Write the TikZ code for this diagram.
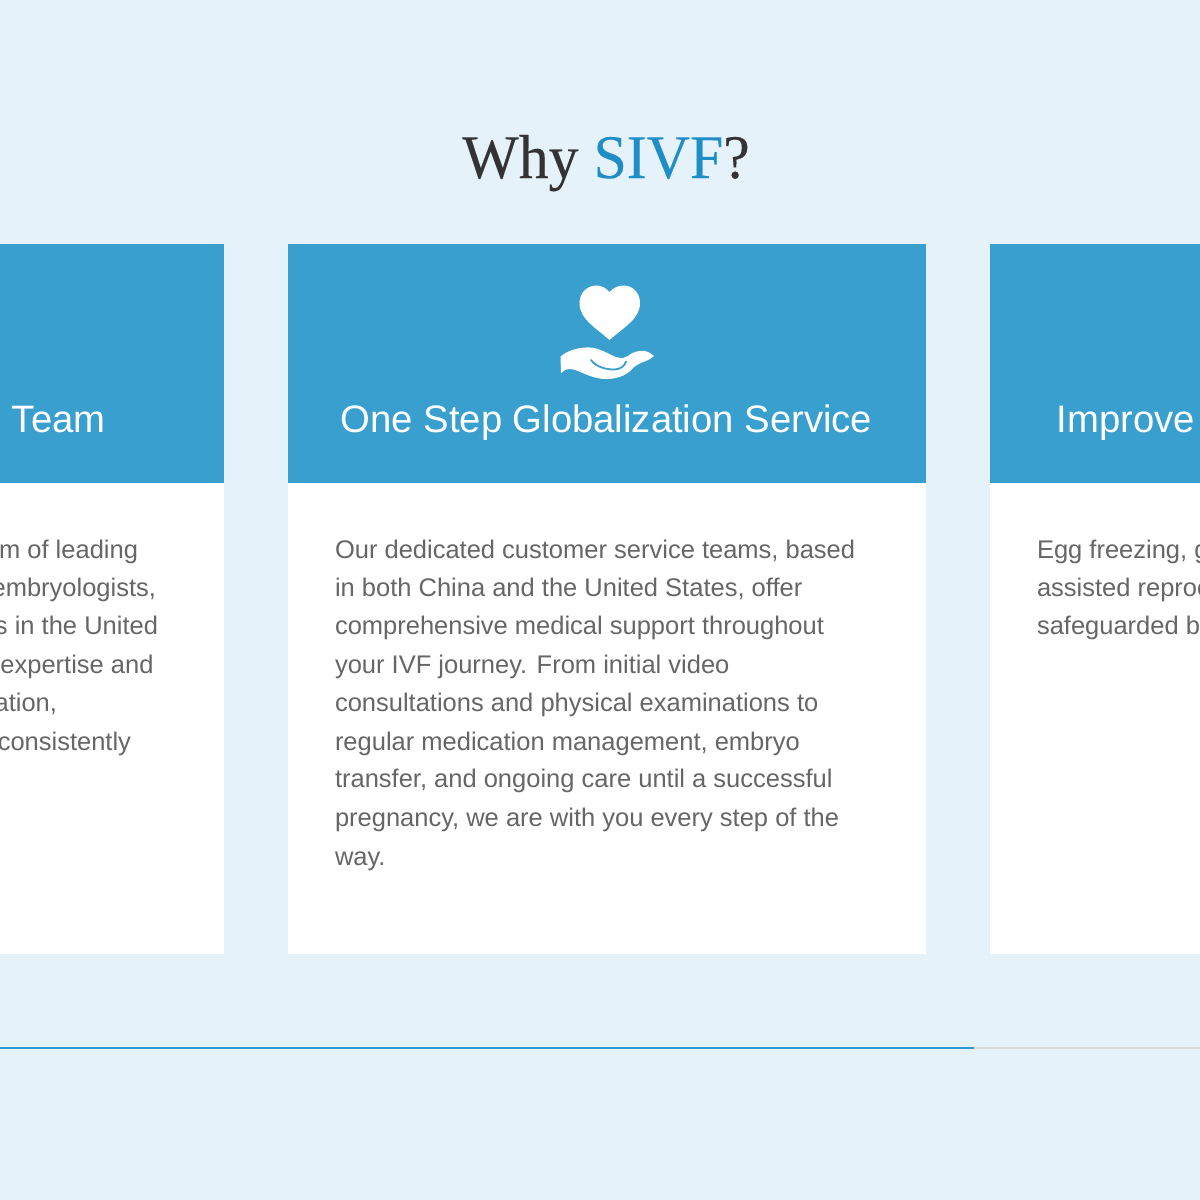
\documentclass[tikz,border=0pt]{standalone}
\usepackage{fontspec}
\setmainfont{Liberation Sans}
\newfontfamily\titlefont[FakeBold=0.2]{Liberation Serif}
\definecolor{pagebg}{HTML}{E5F2F9}
\definecolor{cardblue}{HTML}{389FCF}
\definecolor{bodygrey}{HTML}{666666}
\definecolor{titledark}{HTML}{333333}
\definecolor{titleblue}{HTML}{1F8DC6}
\definecolor{ruleblue}{HTML}{2F97CE}
\definecolor{rulegrey}{HTML}{D6DADC}
\tikzset{
  bodyline/.style={inner sep=0pt,outer sep=0pt,anchor=base west,text=bodygrey,font=\fontsize{25.5}{30}\selectfont},
  bodyright/.style={bodyline,anchor=base east},
  headline/.style={inner sep=0pt,outer sep=0pt,text=white,font=\fontsize{38.25}{44}\selectfont},
}
\begin{document}
\begin{tikzpicture}[x=1pt,y=-1pt]
\useasboundingbox (0,0) rectangle (1200,1200);
\clip (0,0) rectangle (1200,1200);
\fill[pagebg] (0,0) rectangle (1200,1200);
% cards
\fill[white] (-20,483) rectangle (224.3,954);
\fill[cardblue] (-20,244) rectangle (224.3,483);
\fill[white] (288,483) rectangle (926,954);
\fill[cardblue] (288,244) rectangle (926,483);
\fill[white] (989.5,483) rectangle (1220,954);
\fill[cardblue] (989.5,244) rectangle (1220,483);
% title
\node[inner sep=0pt,anchor=base,xscale=0.965,font=\titlefont\fontsize{62}{70}\selectfont,text=titledark] (title) at (606,178) {Why \textcolor{titleblue}{SIVF}?};
% headings
\node[headline,anchor=base east] (headl) at (105.5,432) {l Team};
\node[headline,anchor=base] (headm) at (606.5,432) {One Step Globalization Service};
\node[headline,anchor=base west] (headr) at (1056.5,432) {Improve};
% heart
\fill[white] (609.5,340)
  .. controls (595,327) and (579.5,319) .. (579.5,303)
  .. controls (579.5,292.5) and (587.5,285.5) .. (596.5,285.5)
  .. controls (602,285.5) and (606.5,288.5) .. (609.5,292)
  .. controls (612.5,288.5) and (617.5,285.5) .. (623.5,285.5)
  .. controls (632.5,285.5) and (640,292.5) .. (640,303)
  .. controls (640,319) and (624,327) .. (609.5,340) -- cycle;
% hand
\fill[white] (560.5,356.5)
  .. controls (568,350) and (580,347) .. (590,347.5)
  .. controls (600,348) and (608,354) .. (616,357)
  .. controls (622,359) and (625,358) .. (628,356)
  .. controls (632,352) and (640,350) .. (645,351)
  .. controls (649,352) and (652,354) .. (654,356)
  .. controls (648,362) and (638,362) .. (632,369)
  .. controls (626,376) and (616,379) .. (606,379)
  .. controls (590,379) and (578,369) .. (570,369)
  .. controls (566,369) and (563,371) .. (561,373) -- cycle;
\draw[cardblue,line width=1.8pt,line cap=round] (591,360)
  .. controls (596,367) and (606,369.5) .. (614,369.5)
  .. controls (620,369.5) and (625,366) .. (626,361.5);
% left card text
\node[bodyright] (l1) at (138,558) {m of leading};
\node[bodyright] (l2) at (156,596) {embryologists,};
\node[bodyright] (l3) at (158,634) {s in the United};
\node[bodyright] (l4) at (153.5,673) {expertise and};
\node[bodyright] (l5) at (57,711) {ation,};
\node[bodyright] (l6) at (131,750) {consistently};
% middle card text
\node[bodyline] (m1) at (335,558) {Our dedicated customer service teams, based};
\node[bodyline] (m2) at (335,596) {in both China and the United States, offer};
\node[bodyline] (m3) at (335,634) {comprehensive medical support throughout};
\node[bodyline] (m4) at (335,673) {your IVF journey. From initial video};
\node[bodyline] (m5) at (335,711) {consultations and physical examinations to};
\node[bodyline] (m6) at (335,750) {regular medication management, embryo};
\node[bodyline] (m7) at (335,787) {transfer, and ongoing care until a successful};
\node[bodyline] (m8) at (335,826) {pregnancy, we are with you every step of the};
\node[bodyline] (m9) at (335,865) {way.};
% right card text
\node[bodyline] (r1) at (1037,558) {Egg freezing, g};
\node[bodyline] (r2) at (1037,596) {assisted reproc};
\node[bodyline] (r3) at (1037,634) {safeguarded b};
% progress rule
\coordinate (ruleA) at (0,1047.5);
\coordinate (ruleB) at (973.5,1047.5);
\coordinate (ruleC) at (1200,1047.5);
\draw[rulegrey,line width=2pt] (ruleB) -- (ruleC);
\draw[ruleblue,line width=2pt] (ruleA) -- (ruleB);
\end{tikzpicture}
\end{document}
